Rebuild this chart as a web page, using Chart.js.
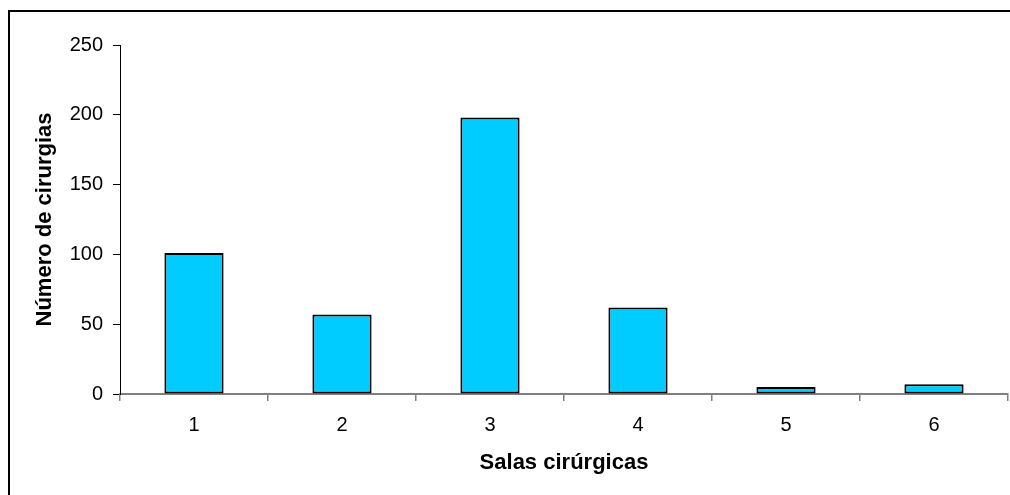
<!DOCTYPE html>
<html>
<head>
<meta charset="utf-8">
<script src="https://cdn.jsdelivr.net/npm/chart.js@4"></script>
<style>
  html, body { margin: 0; padding: 0; background: #fff; }
  #wrap { position: relative; width: 1010px; height: 495px; overflow: hidden; }
  #frame { position: absolute; left: 8px; top: 10px; width: 1100px; height: 600px;
           border-left: 2px solid #000; border-top: 2px solid #000; box-sizing: border-box; }
  canvas { position: absolute; left: 0; top: 0; }
</style>
</head>
<body>
<div id="wrap">
  <div id="frame"></div>
  <canvas id="c" width="1010" height="495"></canvas>
</div>
<script>
// Surgeries per operating room
const salas = ['1', '2', '3', '4', '5', '6'];
const cirurgias = [101, 57, 198, 62, 5, 7];
const yTicks = [0, 50, 100, 150, 200, 250];

const tickFont = { family: 'Liberation Sans, Arial, sans-serif', size: 20 };
const titleFont = { family: 'Liberation Sans, Arial, sans-serif', size: 22, weight: 'bold' };

new Chart(document.getElementById('c'), {
  type: 'bar',
  data: {
    labels: salas,
    datasets: [{
      data: cirurgias,
      backgroundColor: '#00CCFF',
      borderColor: '#000',
      borderWidth: 2,
      borderSkipped: false,
      categoryPercentage: 1.0,
      barPercentage: 0.4
    }]
  },
  options: {
    responsive: false,
    animation: false,
    devicePixelRatio: 1,
    layout: { padding: { top: 45, right: 2, left: 32, bottom: 19 } },
    plugins: { legend: { display: false }, tooltip: { enabled: false } },
    scales: {
      x: {
        grid: { display: true, drawOnChartArea: false, drawTicks: true, tickLength: 7,
                color: '#808080', lineWidth: 1.5, offset: true },
        border: { display: true, color: '#808080', width: 2 },
        ticks: { color: '#000', font: tickFont, padding: 12, maxRotation: 0 },
        title: { display: true, text: 'Salas cirúrgicas', color: '#000', font: titleFont,
                 padding: { top: 0, bottom: 0 } },
        afterFit: s => { s.height = 495 - 19 - 394; }
      },
      y: {
        min: 0, max: 250,
        afterBuildTicks: s => { s.ticks = yTicks.map(v => ({ value: v })); },
        grid: { display: true, drawOnChartArea: false, drawTicks: true, tickLength: 7,
                color: '#000', lineWidth: 1 },
        border: { display: true, color: '#000', width: 1 },
        ticks: { color: '#000', font: tickFont, padding: 10 },
        title: { display: true, text: 'Número de cirurgias', color: '#000', font: titleFont,
                 padding: { top: 0, bottom: 0 } },
        afterFit: s => { s.width = 120 - 32; }
      }
    }
  }
});
</script>
</body>
</html>
